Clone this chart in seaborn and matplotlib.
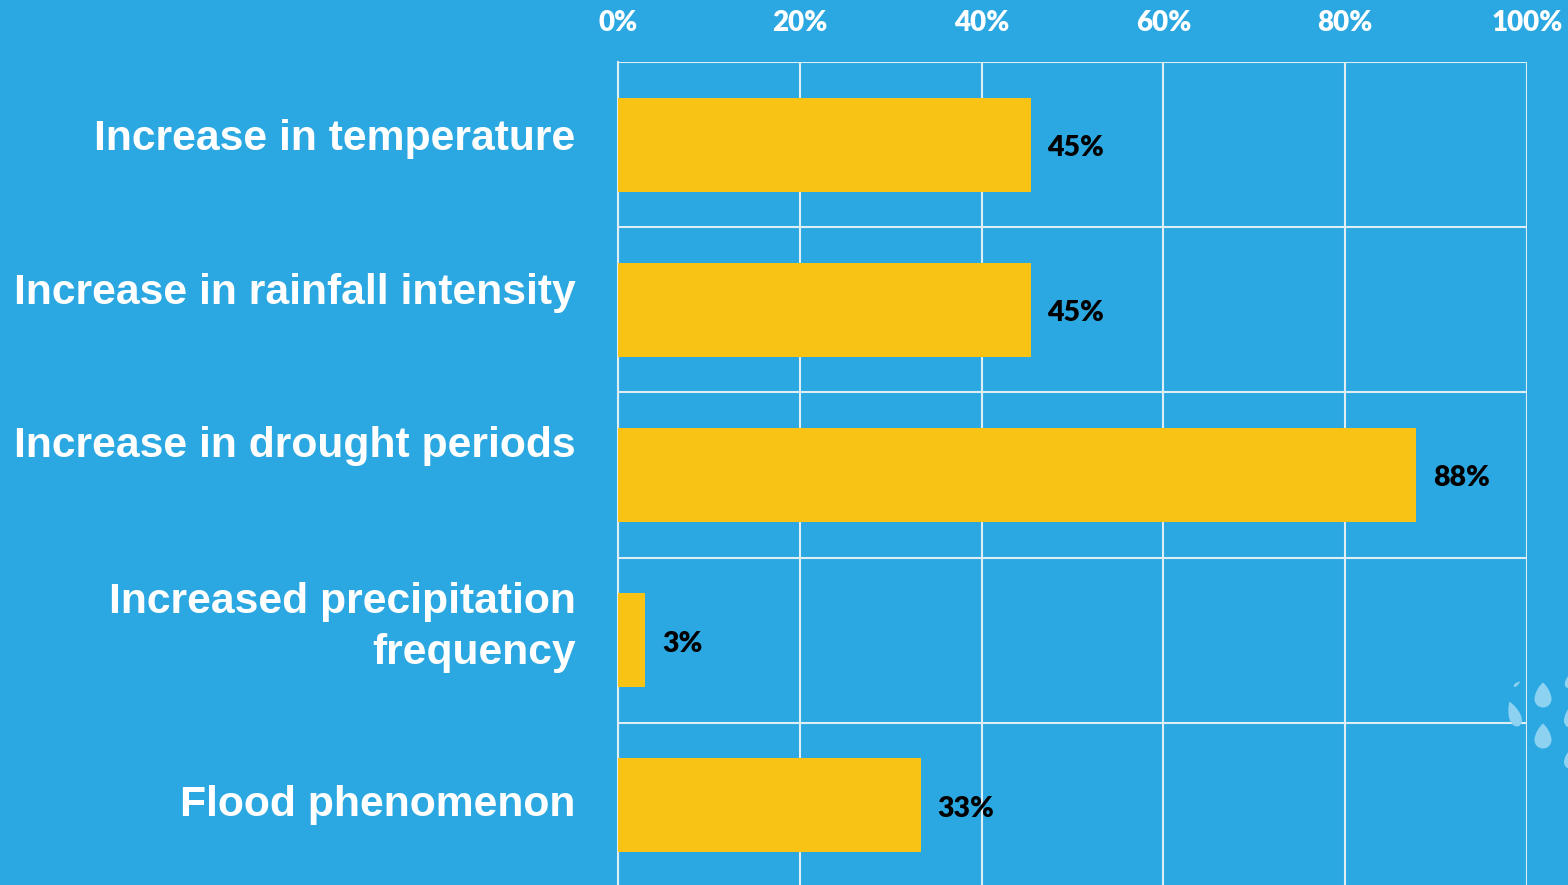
import matplotlib
matplotlib.use("Agg")
import matplotlib.pyplot as plt
import pandas as pd
import seaborn as sns
from matplotlib.path import Path
from matplotlib.patches import PathPatch
from matplotlib.transforms import Affine2D

categories = ["Increase in temperature", "Increase in rainfall intensity",
              "Increase in drought periods", "Increased precipitation\nfrequency",
              "Flood phenomenon"]
values = [45.4, 45.4, 87.8, 3.0, 33.3]
value_labels = ["45%", "45%", "88%", "3%", "33%"]
tick_values = [0, 20, 40, 60, 80, 100]
# Upward shift of each category label, in pixels
label_lifts = [10, 21, 33, 23, 5]
# Rain drops in the lower right corner: x, y, width, height, tilt (pixels, degrees)
drops = [(1543, 695, 17, 25, 0), (1543, 736, 17, 25, 0), (1514, 714, 12, 26, 20),
         (1517, 684, 3, 8, -50), (1570, 682, 12, 12, 20), (1571, 717, 14, 22, 0),
         (1571, 759, 14, 20, 0)]

BG = "#2ba8e2"
BAR = "#f9c316"
GRID = "#dfedf5"
DROP = "#8dd2f0"

sns.set_theme(style="white")
plt.rcParams["font.family"] = ["Liberation Sans", "DejaVu Sans"]

W, H = 1568, 885
fig = plt.figure(figsize=(W / 100, H / 100), dpi=100, facecolor=BG)
ax = fig.add_axes([618 / W, -3 / H, (1527 - 618) / W, (H - 62 + 3) / H], facecolor=BG)

df = pd.DataFrame({"category": categories, "value": values})
sns.barplot(data=df, y="category", x="value", color=BAR, saturation=1, width=0.57,
            linewidth=0, edgecolor="none", ax=ax, zorder=3)

ax.set_xlim(0, 100)
ax.set_ylim(4.5, -0.5)
ax.set_xlabel("")
ax.set_ylabel("")
ax.set_xticks(tick_values)
ax.set_xticklabels([f"{t}%" for t in tick_values], family="Lato",
                   fontweight="heavy", fontsize=20, color="white")
ax.xaxis.tick_top()
ax.tick_params(axis="x", length=0, pad=18.5)
ax.tick_params(axis="y", length=0, pad=30.5)
ax.set_yticks(range(len(categories)))
ax.set_yticklabels(categories, fontweight="bold", fontsize=30.7, color="white",
                   ha="right", linespacing=1.38)
for label, lift in zip(ax.get_yticklabels(), label_lifts):
    label.set_transform(label.get_transform() + Affine2D().translate(0, lift))

# Grid on both axes: tick positions across, row boundaries down
ax.set_yticks([i - 0.5 for i in range(len(categories) + 1)], minor=True)
ax.grid(True, axis="x", color=GRID, linewidth=1.5, zorder=1)
ax.grid(True, axis="y", which="minor", color=GRID, linewidth=1.5, zorder=1)
ax.grid(False, axis="y", which="major")
ax.tick_params(axis="y", which="minor", length=0)
for side in ax.spines:
    ax.spines[side].set_visible(False)
ax.spines["left"].set_visible(True)
ax.spines["left"].set_color(GRID)
ax.spines["left"].set_linewidth(1.5)

for i, (v, label) in enumerate(zip(values, value_labels)):
    ax.annotate(label, (v, i), xytext=(12, -2.5), textcoords="offset points",
                family="Lato", fontweight="heavy", fontsize=20.5, color="black",
                va="center", ha="left", zorder=5)

# Unit teardrop, pointed end up, spanning -0.5..0.5 on both axes
drop_path = Path(
    [(0, 0.5), (0.22, 0.38), (0.5, 0.08), (0.5, -0.16),
     (0.5, -0.36), (0.28, -0.5), (0, -0.5),
     (-0.28, -0.5), (-0.5, -0.36), (-0.5, -0.16),
     (-0.5, 0.08), (-0.22, 0.38), (0, 0.5), (0, 0.5)],
    [Path.MOVETO, Path.CURVE4, Path.CURVE4, Path.CURVE4,
     Path.CURVE4, Path.CURVE4, Path.CURVE4,
     Path.CURVE4, Path.CURVE4, Path.CURVE4,
     Path.CURVE4, Path.CURVE4, Path.CURVE4, Path.CLOSEPOLY])
for x, y, w, h, tilt in drops:
    placed = Affine2D().scale(w, h).rotate_deg(tilt).translate(x, H - y)
    fig.add_artist(PathPatch(drop_path, transform=placed, facecolor=DROP,
                             edgecolor="none", zorder=6))

fig.savefig("out.png", dpi=100, facecolor=BG)
